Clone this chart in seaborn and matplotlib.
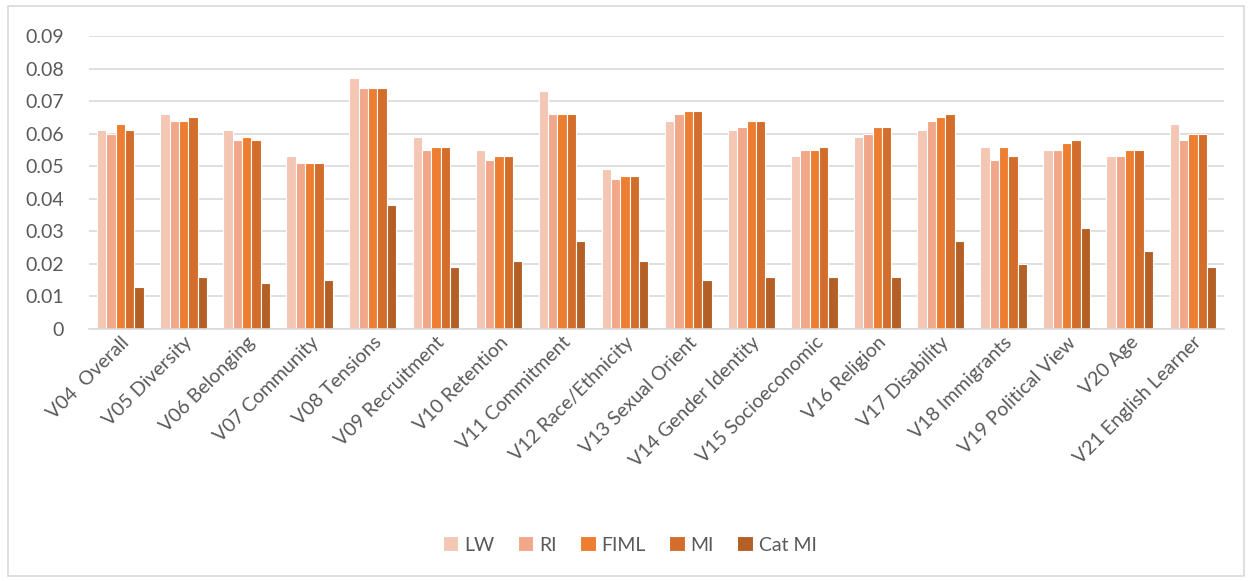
import numpy as np
import pandas as pd
import matplotlib
matplotlib.use("Agg")
import matplotlib.pyplot as plt
import seaborn as sns
from matplotlib.patches import Rectangle

variables = ["V04  Overall", "V05 Diversity", "V06 Belonging", "V07 Community",
             "V08 Tensions", "V09 Recruitment", "V10 Retention", "V11 Commitment",
             "V12 Race/Ethnicity", "V13 Sexual Orient", "V14 Gender Identity",
             "V15 Socioeconomic", "V16 Religion", "V17 Disability", "V18 Immigrants",
             "V19 Political View", "V20 Age", "V21 English Learner"]
methods = ["LW", "RI", "FIML", "MI", "Cat MI"]

lw = [0.061, 0.066, 0.061, 0.053, 0.077, 0.059, 0.055, 0.073, 0.049,
      0.064, 0.061, 0.053, 0.059, 0.061, 0.056, 0.055, 0.053, 0.063]
ri = [0.060, 0.064, 0.058, 0.051, 0.074, 0.055, 0.052, 0.066, 0.046,
      0.066, 0.062, 0.055, 0.060, 0.064, 0.052, 0.055, 0.053, 0.058]
fiml = [0.063, 0.064, 0.059, 0.051, 0.074, 0.056, 0.053, 0.066, 0.047,
        0.067, 0.064, 0.055, 0.062, 0.065, 0.056, 0.057, 0.055, 0.060]
mi = [0.061, 0.065, 0.058, 0.051, 0.074, 0.056, 0.053, 0.066, 0.047,
      0.067, 0.064, 0.056, 0.062, 0.066, 0.053, 0.058, 0.055, 0.060]
cat_mi = [0.013, 0.016, 0.014, 0.015, 0.038, 0.019, 0.021, 0.027, 0.021,
          0.015, 0.016, 0.016, 0.016, 0.027, 0.020, 0.031, 0.024, 0.019]

colors = ["#F4C6B4", "#F1A88A", "#ED7D31", "#D26D2B", "#B35F25"]

df = pd.DataFrame({"Variable": variables, "LW": lw, "RI": ri, "FIML": fiml,
                   "MI": mi, "Cat MI": cat_mi})
long = df.melt(id_vars="Variable", var_name="Method", value_name="value")

sns.set_style("white")
plt.rcParams["font.family"] = ["Lato", "DejaVu Sans"]

fig = plt.figure(figsize=(12.52, 5.81), dpi=100)
ax = fig.add_axes([0.071, 0.434, 0.907, 0.504])

sns.barplot(data=long, x="Variable", y="value", hue="Method", hue_order=methods,
            palette=colors, saturation=1, width=0.74, edgecolor="white",
            linewidth=0.8, ax=ax, legend=True)

ax.set_ylim(0, 0.09)
ax.set_yticks(np.arange(0, 0.091, 0.01))
ax.set_yticklabels(["0"] + [f"{v:.2f}" for v in np.arange(0.01, 0.091, 0.01)])
ax.set_xlim(-0.5, len(variables) - 0.5)
ax.grid(axis="y", color="#D9D9D9", linewidth=1.2)
ax.set_axisbelow(True)
for s in ["left", "right", "top"]:
    ax.spines[s].set_visible(False)
ax.spines["bottom"].set_color("#D9D9D9")
ax.spines["bottom"].set_linewidth(1.2)
ax.tick_params(axis="both", length=0, colors="#595959", labelsize=14)
ax.tick_params(axis="y", pad=18)
plt.setp(ax.get_xticklabels(), rotation=45, ha="right", rotation_mode="anchor")
ax.set_xlabel("")
ax.set_ylabel("")

handles, labels = ax.get_legend_handles_labels()
ax.get_legend().remove()
fig.legend(handles, labels, loc="center", bbox_to_anchor=(0.503, 0.062), ncol=5,
           frameon=False, fontsize=14, labelcolor="#595959",
           handlelength=0.8, handleheight=0.8, handletextpad=0.3, columnspacing=1.2)

fig.patches.append(Rectangle((0.006, 0.008), 0.988, 0.982, transform=fig.transFigure,
                             fill=False, edgecolor="#D9D9D9", linewidth=1.2))

fig.savefig("out.png", dpi=100)
